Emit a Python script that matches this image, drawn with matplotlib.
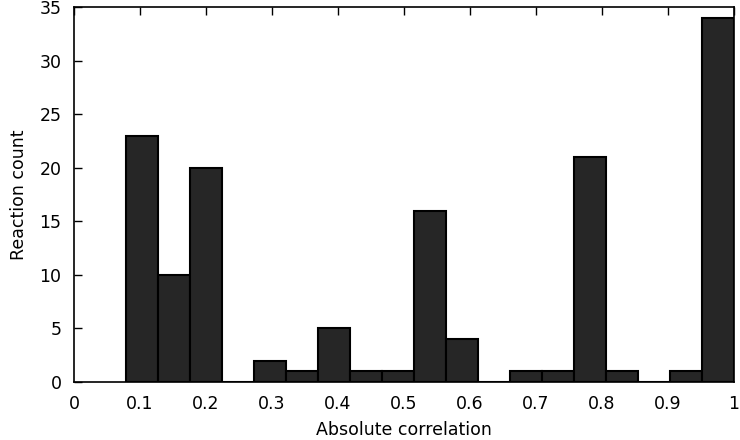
import numpy as np
import matplotlib
matplotlib.use('Agg')
import matplotlib.pyplot as plt

# Histogram of absolute correlations (19 equal-width bins)
bin_lo = 0.0788
bin_hi = 1.0
counts = [23, 10, 20, 0, 2, 1, 5, 1, 1, 16, 4, 0, 1, 1, 21, 1, 0, 1, 34]
xticks = [0, 0.1, 0.2, 0.3, 0.4, 0.5, 0.6, 0.7, 0.8, 0.9, 1]
xtick_labels = ['0', '0.1', '0.2', '0.3', '0.4', '0.5', '0.6', '0.7', '0.8', '0.9', '1']
yticks = [0, 5, 10, 15, 20, 25, 30, 35]

edges = np.linspace(bin_lo, bin_hi, len(counts) + 1)

fig = plt.figure(figsize=(7.4, 4.4), dpi=100)
ax = fig.add_axes([0.1, 0.1318, 0.892, 0.8523])

ax.bar(edges[:-1], counts, width=np.diff(edges), align='edge',
       color='#262626', edgecolor='black', linewidth=1.5, zorder=3)

ax.set_xlim(0, 1)
ax.set_ylim(0, 35)
ax.set_xticks(xticks)
ax.set_xticklabels(xtick_labels)
ax.set_yticks(yticks)
# gnuplot-like ticks: inward, on left and mirrored on top only
ax.tick_params(direction='in', length=6, width=1, labelsize=12.5,
               top=True, bottom=False, right=False)
ax.tick_params(axis='x', pad=9)
ax.tick_params(axis='y', pad=9)
for s in ax.spines.values():
    s.set_linewidth(1.2)
    s.set_zorder(4)

ax.set_xlabel('Absolute correlation', fontsize=12.5, labelpad=6)
ax.set_ylabel('Reaction count', fontsize=12.5, labelpad=8)

fig.savefig('out.png', dpi=100)
